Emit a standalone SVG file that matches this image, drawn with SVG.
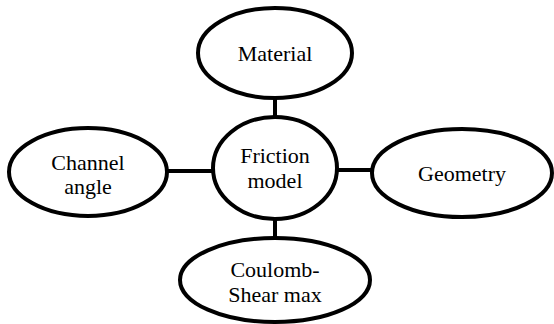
<svg xmlns="http://www.w3.org/2000/svg" width="554" height="324" viewBox="0 0 554 324">
  <style>
    .node { fill: #ffffff; stroke: #000000; stroke-width: 4; }
    .link { stroke: #000000; stroke-width: 4; fill: none; }
    .label { font-family: 'Liberation Serif', 'Times New Roman', 'DejaVu Serif', serif; font-size: 22px; fill: #000000; text-anchor: middle; }
  </style>
  <rect width="554" height="324" fill="#ffffff"/>
  <g id="connectors">
    <line class="link" x1="275" y1="98" x2="275" y2="118"/>
    <line class="link" x1="166" y1="171" x2="214" y2="171"/>
    <line class="link" x1="336" y1="170" x2="373" y2="170"/>
    <line class="link" x1="275" y1="219" x2="275" y2="239"/>
  </g>
  <g id="material">
    <ellipse class="node" cx="275" cy="53" rx="77" ry="45"/>
    <text class="label" x="275" y="61" font-family="Liberation Serif, serif">Material</text>
  </g>
  <g id="friction-model">
    <ellipse class="node" cx="275" cy="168" rx="62" ry="51"/>
    <text class="label" x="275" y="163">Friction</text>
    <text class="label" x="275" y="188">model</text>
  </g>
  <g id="channel-angle">
    <ellipse class="node" cx="88" cy="172" rx="79" ry="44"/>
    <text class="label" x="88" y="170">Channel</text>
    <text class="label" x="88" y="194">angle</text>
  </g>
  <g id="geometry">
    <ellipse class="node" cx="462" cy="173" rx="90" ry="44"/>
    <text class="label" x="462" y="181">Geometry</text>
  </g>
  <g id="coulomb-shear-max">
    <ellipse class="node" cx="275" cy="280" rx="95" ry="42"/>
    <text class="label" x="275" y="277">Coulomb-</text>
    <text class="label" x="275" y="302">Shear max</text>
  </g>
</svg>
